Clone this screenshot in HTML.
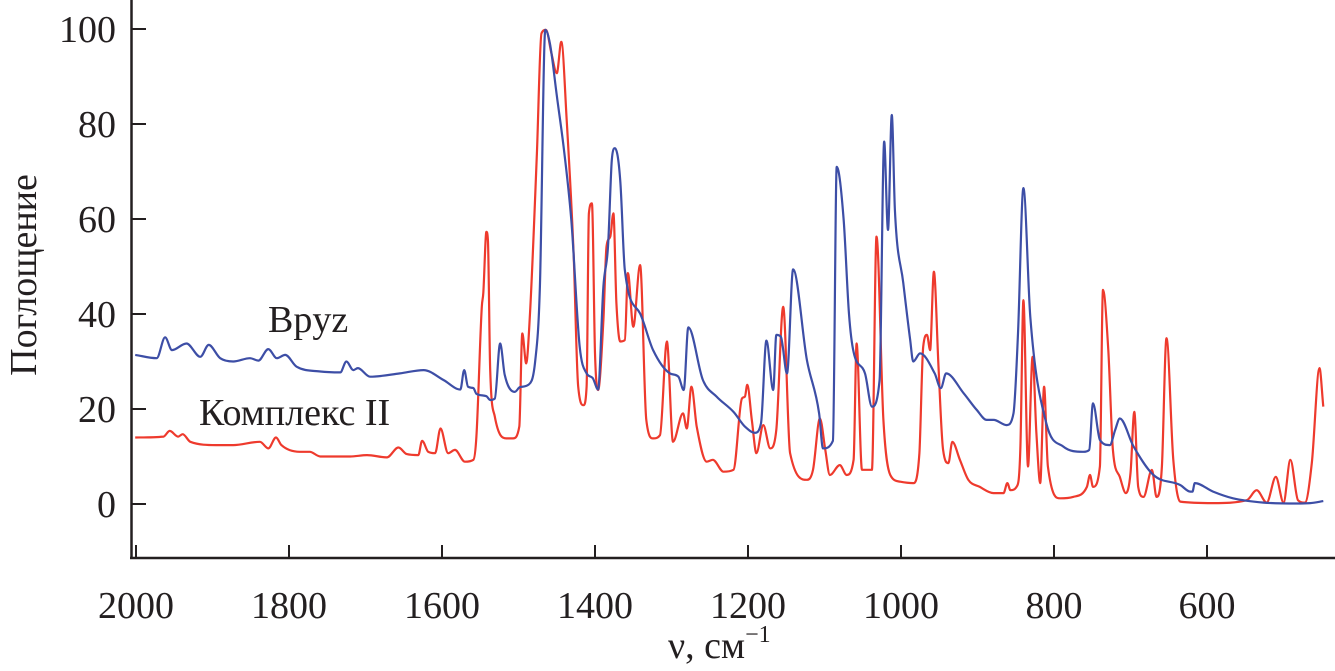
<!DOCTYPE html>
<html><head><meta charset="utf-8"><style>
html,body{margin:0;padding:0;background:#fff;}
svg{display:block;}
text{font-family:"Liberation Serif",serif;fill:#231f20;}
</style></head><body>
<svg id="chart" width="1335" height="671" viewBox="0 0 1335 671" xmlns="http://www.w3.org/2000/svg">
<g id="axes"></g>
<g id="series"></g>
<text x="0" y="0" font-size="38" text-anchor="middle" transform="translate(36,275) rotate(-90)">Поглощение</text>
<text x="668" y="658" font-size="38">ν, см<tspan font-size="24" dy="-16">−1</tspan></text>
<text x="268" y="332" font-size="38">Bpyz</text>
<text x="199" y="425" font-size="38">Комплекс II</text>
</svg>
<script>
const xTicks=[2000,1800,1600,1400,1200,1000,800,600];
const yTicks=[0,20,40,60,80,100];
const bpyzWn=[2001,1973,1962,1953,1934,1916,1905,1890,1873,1851,1840,1827,1816,1805,1790,1759,1733,1725,1716,1710,1694,1655,1624,1598,1576,1571,1566,1559,1555,1542,1537,1531,1524,1518,1505,1498,1487,1478,1472,1465,1459,1450,1441,1431,1420,1411,1403,1396,1389,1383,1378,1374,1367,1361,1341,1324,1302,1291,1284,1278,1259,1241,1219,1204,1191,1183,1176,1167,1163,1157,1149,1141,1123,1107,1102,1089,1084,1075,1068,1062,1047,1038,1028,1022,1017,1012,1008,997,988,984,975,956,948,941,918,901,888,879,862,853,847,840,831,810,788,762,754,749,740,727,720,714,696,670,635,622,619,616,592,566,526,483,465,448];
const bpyzVal=[31.4,30.7,35.1,32.4,33.8,31.0,33.5,30.7,30.0,30.7,30.2,32.6,30.7,31.4,28.9,27.9,27.7,30.0,28.2,28.6,26.8,27.5,28.2,26.1,24.1,28.2,24.7,24.4,23.2,22.7,21.9,22.2,33.8,27.2,23.6,24.6,25.1,30.3,45.8,99.8,97.0,86,75.2,59.8,33.1,27.5,26.5,24.1,45.8,54.2,72.4,74.9,68.2,49.3,40.1,32.4,27.5,26.8,24.0,37.2,26.1,22.6,19.4,16.3,15.0,17.0,34.4,24.0,35.6,35.2,27.5,49.4,30.3,19.1,11.7,13.3,71.0,60,40,32,27.5,20.5,26.1,76.3,57.7,81.9,61.9,46.5,34.5,30.0,31.7,27.5,24.4,27.5,23.3,19.8,17.7,17.7,16.6,19.1,35.9,66.5,39.4,17.0,12.1,11.0,11.4,21.2,13.5,12.4,15.6,18.0,12.1,6.1,4.0,2.6,2.6,4.4,2.6,1.2,0.3,0.1,0.2,0.6,5.5];
const complexWn=[2001,1964,1956,1945,1939,1929,1895,1873,1838,1827,1817,1810,1786,1773,1759,1720,1698,1672,1657,1646,1631,1626,1618,1609,1602,1592,1583,1570,1559,1555,1548,1546,1542,1540,1537,1531,1516,1507,1499,1495,1490,1485,1476,1470,1464,1457,1450,1444,1437,1428,1422,1415,1411,1408,1404,1400,1396,1389,1385,1380,1376,1372,1367,1361,1357,1350,1341,1333,1324,1315,1306,1298,1285,1280,1274,1267,1254,1246,1232,1219,1208,1204,1201,1195,1189,1180,1171,1163,1154,1145,1123,1115,1106,1099,1093,1080,1071,1062,1058,1051,1038,1032,1023,1014,1001,984,976,971,966,962,957,951,945,938,933,923,912,897,879,866,861,857,849,844,840,834,828,823,818,813,808,792,775,757,753,749,740,736,729,723,714,706,700,695,690,683,672,666,659,653,644,635,592,548,535,522,510,500,491,481,472,463,453,448];
const complexVal=[14.0,14.2,15.4,14.2,14.7,13.1,12.4,12.4,13.1,11.7,14.0,12.4,11.0,11.0,10.0,10.0,10.3,9.8,11.9,10.5,10.3,13.3,11.0,10.7,15.9,10.7,11.4,8.9,9.3,14.2,41.5,44.4,57.3,55.6,28.2,18.4,13.8,13.8,16.3,35.9,29.6,40.1,73.8,99.1,99.8,94.9,90.7,97.3,80.8,52.8,24.7,20.8,24.7,61.2,63.3,31.7,24.0,38.7,54.2,56.3,61.2,42.3,34.2,34.5,48.6,37.3,50.3,17.7,13.8,14.5,34.2,13.1,19.1,15.9,24.7,16.3,8.9,9.3,6.8,7.2,22.2,22.6,25.1,17.7,10.7,16.6,11.7,15.6,41.5,10.7,5.1,7.2,18.0,11.4,6.1,8.2,6.1,9.3,33.8,7.2,7.2,56.3,17.7,6.1,4.7,4.4,10.7,33.1,35.6,32.4,48.9,28.9,11.4,8.6,13.1,9.3,5.1,3.6,2.3,2.3,4.4,2.9,3.6,11.4,42.9,7.9,31.0,14.9,4.4,24.7,7.9,1.2,1.5,3.6,6.1,3.6,7.9,45.1,32.4,11.4,5.7,2.3,6.5,19.4,3.6,1.5,7.2,1.5,7.9,34.9,9.3,0.5,0.2,0.8,2.9,0.3,5.7,0.3,9.3,0.8,0.3,8.6,28.6,20.5];

const NS="http://www.w3.org/2000/svg";
function xs(w){return 136+(2000-w)*0.765;}
function ys(v){return 504-v*4.75;}
const axes=document.getElementById('axes');
const series=document.getElementById('series');
function mk(tag,attrs,parent){const e=document.createElementNS(NS,tag);for(const k in attrs)e.setAttribute(k,attrs[k]);parent.appendChild(e);return e;}

const yAxis=mk('line',{x1:131.5,y1:0,x2:131.5,y2:559,stroke:'#231f20','stroke-width':2.5},axes);


const xAxis=mk('line',{x1:130,y1:558,x2:1335,y2:558,stroke:'#231f20','stroke-width':2.5},axes);



yTicks.forEach(v=>{
  const t=mk('line',{x1:131,y1:ys(v),x2:146,y2:ys(v),stroke:'#231f20','stroke-width':2},axes);
  
  
  const l=mk('text',{x:116,y:ys(v)+13,'font-size':38,'text-anchor':'end'},axes);
  l.textContent=v;
  
  
});
xTicks.forEach(w=>{
  const t=mk('line',{x1:xs(w),y1:558,x2:xs(w),y2:545,stroke:'#231f20','stroke-width':2},axes);
  
  
  const l=mk('text',{x:xs(w),y:618,'font-size':38,'text-anchor':'middle'},axes);
  l.textContent=w;
  
  
});
function path(wn,val,color){
  const X=wn.map(xs), Y=val.map(ys), n=X.length;
  const d=[],m=[];
  for(let i=0;i<n-1;i++){d.push((Y[i+1]-Y[i])/(X[i+1]-X[i]));}
  m[0]=d[0];m[n-1]=d[n-2];
  for(let i=1;i<n-1;i++){m[i]=(d[i-1]*d[i]<=0)?0:(d[i-1]+d[i])/2;}
  for(let i=0;i<n-1;i++){
    if(d[i]===0){m[i]=0;m[i+1]=0;continue;}
    const a=m[i]/d[i],b=m[i+1]/d[i],s=a*a+b*b;
    if(s>9){const t=3/Math.sqrt(s);m[i]=t*a*d[i];m[i+1]=t*b*d[i];}
  }
  let p='M'+X[0].toFixed(1)+','+Y[0].toFixed(1);
  for(let i=0;i<n-1;i++){
    const h=(X[i+1]-X[i])/3;
    p+='C'+(X[i]+h).toFixed(1)+','+(Y[i]+m[i]*h).toFixed(1)+' '+(X[i+1]-h).toFixed(1)+','+(Y[i+1]-m[i+1]*h).toFixed(1)+' '+X[i+1].toFixed(1)+','+Y[i+1].toFixed(1);
  }
  return mk('path',{d:p,fill:'none',stroke:color,'stroke-width':2.2,'stroke-linejoin':'round'},series);
}
const pc=path(complexWn,complexVal,'#ee3a2d');


const pb=path(bpyzWn,bpyzVal,'#3d4ea6');


</script>
</body></html>
